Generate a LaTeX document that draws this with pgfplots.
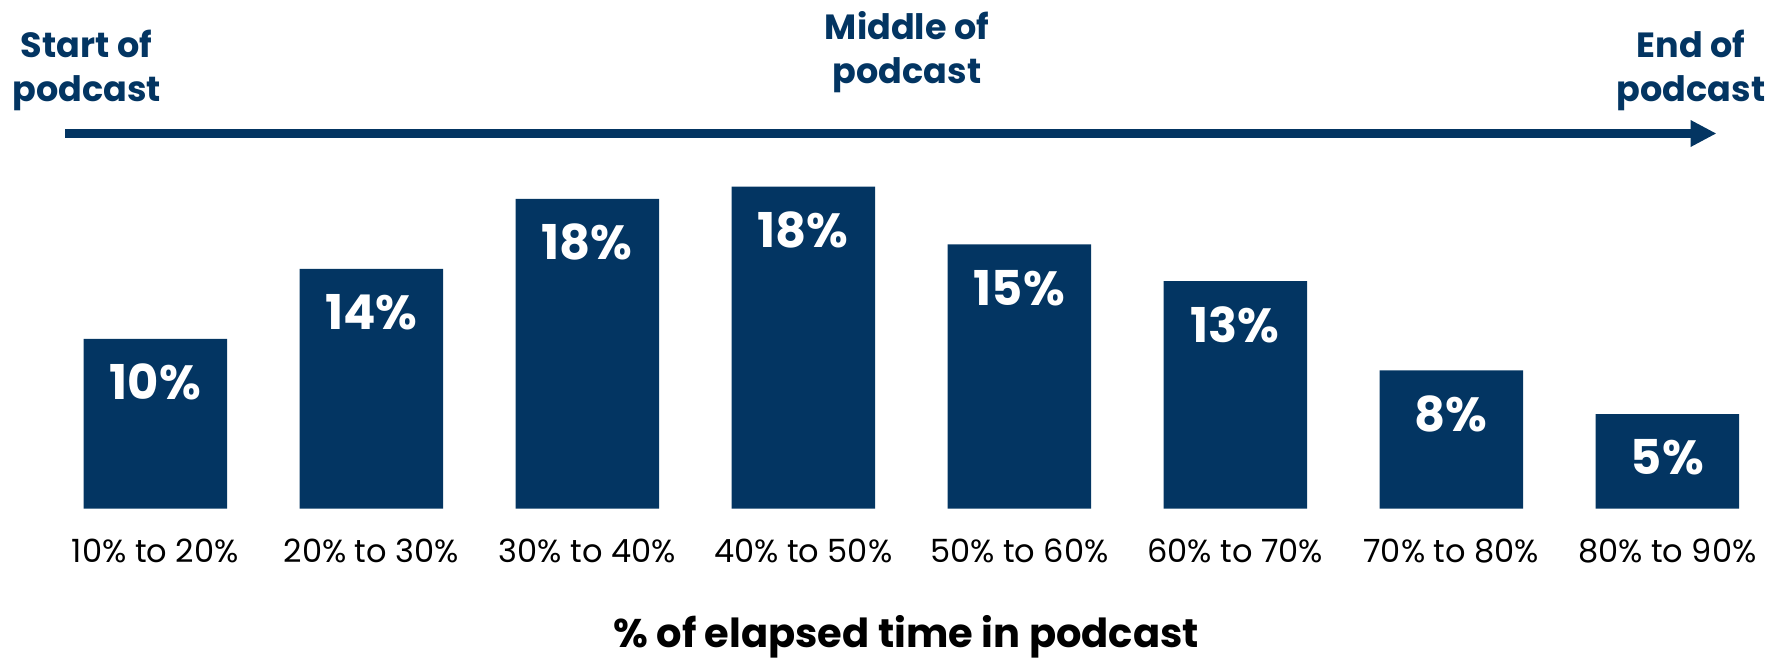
\documentclass[border=0pt]{standalone}
\usepackage{fontspec}
\setmainfont{Poppins}
\usepackage{pgfplots}
\pgfplotsset{compat=1.18}
\usetikzlibrary{arrows.meta}
\definecolor{navy}{RGB}{3,53,98}
\begin{document}
\begin{tikzpicture}
\path[use as bounding box] (0,0) rectangle (885.5pt,330pt);
\begin{axis}[
  at={(34.45pt,75.75pt)}, anchor=south west,
  scale only axis, width=842.4pt, height=175pt,
  xmin=-0.4, xmax=7.4, ymin=0, ymax=20,
  axis line style={draw=none}, tick style={draw=none},
  major tick length=0pt,
  ytick=\empty,
  xtick=data,
  /pgf/number format/assume math mode=true,
  xticklabels={10\% to 20\%,20\% to 30\%,30\% to 40\%,40\% to 50\%,50\% to 60\%,60\% to 70\%,70\% to 80\%,80\% to 90\%},
  xticklabel style={anchor=base, yshift=-26.75pt, font=\fontsize{16}{19}\selectfont, text=black},
  ybar, bar width=0.664,
  nodes near coords={\pgfmathprintnumber[fixed,precision=0,assume math mode=true]{\pgfplotspointmeta}\%},
  every node near coord/.append style={anchor=center, yshift=-21.75pt, text=white, font=\fontsize{24}{28}\selectfont\bfseries},
  clip=false,
]
\addplot[fill=navy, draw=none] coordinates {(0,9.7) (1,13.7) (2,17.7) (3,18.4) (4,15.1) (5,13.0) (6,7.9) (7,5.4)};
\end{axis}
\draw[navy, line width=4.5pt, -{Triangle[length=13pt,width=12.5pt]}] (32.5pt,263.25pt) -- (858.25pt,263.25pt);
\begin{scope}[every node/.style={text=navy, font=\fontsize{17.5}{21}\selectfont\bfseries, anchor=base, inner sep=0pt}]
\node at (43.25pt,301pt) {Start of};
\node at (43.25pt,279pt) {podcast};
\node at (453.5pt,310pt) {Middle of};
\node at (453.5pt,288pt) {podcast};
\node at (845.5pt,301pt) {End of};
\node at (845.5pt,279pt) {podcast};
\end{scope}
\node[anchor=base, inner sep=0pt, font=\fontsize{20}{24}\selectfont\bfseries] at (453pt,6.5pt) {\% of elapsed time in podcast};
\end{tikzpicture}
\end{document}
